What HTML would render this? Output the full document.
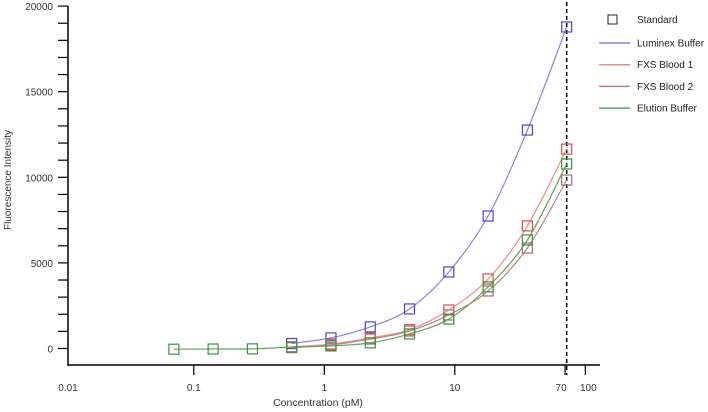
<!DOCTYPE html>
<html><head><meta charset="utf-8"><style>
body{margin:0;background:#fff}
svg{font-family:"Liberation Sans",sans-serif;display:block}
</style></head><body>
<svg id="chart" width="708" height="412" viewBox="0 0 708 412">
<g id="axes"></g>
<g id="series"></g>
<g id="legend"></g>
<text transform="translate(11,180) rotate(-90)" text-anchor="middle" font-size="10" fill="#333">Fluorescence Intensity</text>
<text x="318" y="406" text-anchor="middle" font-size="10.5" fill="#333">Concentration  (pM)</text>
</svg>
<script>
const conc=[72,36,18,9,4.5,2.25,1.125,0.5625,0.28125,0.140625,0.0703125];
const luminex=[18780,12760,7740,4470,2310,1260,620,290];
const fxs1=[11650,7160,4060,2250,1100,620,260,100];
const fxs2=[9840,5870,3360,1960,1020,550,200,50];
const elution=[10780,6340,3600,1720,850,330,150,80,-20,-30,-40];
const yTicks=[0,5000,10000,15000,20000];
const xTickVals=[0.01,0.1,1,10,70,100];
const xTickLabels=["0.01","0.1","1","10","70","100"];
const dashedAt=72;
const names=["Luminex Buffer","FXS Blood 1","FXS Blood 2","Elution Buffer"];
const NS="http://www.w3.org/2000/svg";
function X(c){return 324.3+130.5*Math.log10(c);}
function Y(v){return 348.5-v/5000*85.6;}
function el(t,a,p){const e=document.createElementNS(NS,t);for(const k in a)e.setAttribute(k,a[k]);p.appendChild(e);return e;}
const ax=document.getElementById('axes');
let e=el('line',{x1:68,y1:6,x2:68,y2:366,stroke:'#000','stroke-width':1.5},ax);

e=el('line',{x1:68,y1:365,x2:600,y2:365,stroke:'#000','stroke-width':1.5},ax);

for(let v=0;v<=20000;v+=1000){
 e=el('line',{x1:58,y1:Y(v),x2:68,y2:Y(v),stroke:'#000','stroke-width':1.2},ax);
 
}
yTicks.forEach(v=>{e=el('text',{x:53,y:Y(v)+4,'text-anchor':'end','font-size':10,fill:'#333'},ax);e.textContent=v;
 });
xTickVals.forEach((c,i)=>{const x=Math.max(68,X(c));
 if(i>0){e=el('line',{x1:x,y1:365,x2:x,y2:375,stroke:'#000','stroke-width':1.2},ax);
 }
 e=el('text',{x:x+(c==70?-4:c==100?3:0),y:391,'text-anchor':'middle','font-size':10,fill:'#333'},ax);e.textContent=xTickLabels[i];
 });
e=el('line',{x1:X(dashedAt),y1:2,x2:X(dashedAt),y2:375,stroke:'#000','stroke-width':1.5,'stroke-dasharray':'4,3'},ax);

const sg=document.getElementById('series');
function path(pts){let d='M'+pts[0][0]+','+pts[0][1];
 for(let i=0;i<pts.length-1;i++){const p0=pts[i-1]||pts[i],p1=pts[i],p2=pts[i+1],p3=pts[i+2]||p2;
  d+=' C'+(p1[0]+(p2[0]-p0[0])/6)+','+(p1[1]+(p2[1]-p0[1])/6)+' '+(p2[0]-(p3[0]-p1[0])/6)+','+(p2[1]-(p3[1]-p1[1])/6)+' '+p2[0]+','+p2[1];}
 return d;}
const sets=[[luminex,'#8a82ea','#4a44d8','luminex'],[fxs1,'#ee8a8a','#dd4a4a','fxs-blood-1'],[fxs2,'#b88080','#b06a6a','fxs-blood-2'],[elution,'#5aa85a','#3a943a','elution']];
sets.forEach(([vals,lc,mc,n])=>{
 const pts=vals.map((v,i)=>[X(conc[i]),Y(v)]).reverse();
 e=el('path',{d:path(pts),fill:'none',stroke:lc,'stroke-width':1.2},sg);
 
 pts.forEach(p=>{e=el('rect',{x:p[0]-5,y:p[1]-5,width:10,height:10,fill:'none',stroke:mc,'stroke-width':1.2},sg);
  });
});
const lg=document.getElementById('legend');
e=el('rect',{x:608,y:15,width:9,height:9,fill:'none',stroke:'#222','stroke-width':1},lg);

e=el('text',{x:637,y:23,'font-size':10,fill:'#222'},lg);e.textContent='Standard';

names.forEach((nm,i)=>{const y=43+i*21.7;
 e=el('line',{x1:599,y1:y,x2:630,y2:y,stroke:sets[i][1],'stroke-width':1.5},lg);
 
 e=el('text',{x:637,y:y+3.5,'font-size':10,fill:'#222'},lg);e.textContent=nm;
 });
</script>
</body></html>
